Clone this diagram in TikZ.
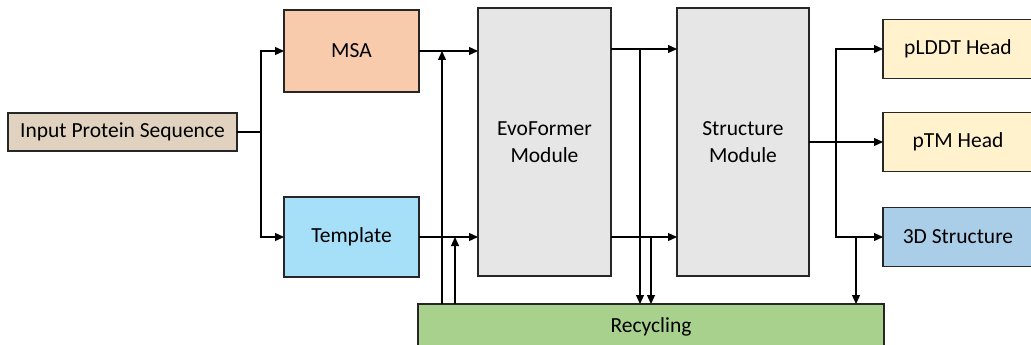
\documentclass[tikz,border=0pt]{standalone}
\usepackage{fontspec}
\setmainfont{Carlito}
\usepackage{tikz}
\usetikzlibrary{shapes, arrows.meta, positioning, calc}

\definecolor{inputfill}{HTML}{E0D2BF}
\definecolor{msafill}{HTML}{F8CBAD}
\definecolor{templatefill}{HTML}{A5E0F8}
\definecolor{modulefill}{HTML}{E6E6E6}
\definecolor{headfill}{HTML}{FFF2CC}
\definecolor{structfill}{HTML}{AACDE8}
\definecolor{recyclefill}{HTML}{A9D18E}
\definecolor{edge}{HTML}{262626}

\begin{document}
\begin{tikzpicture}[x=1pt, y=-1pt, font=\fontsize{21.5}{26.5}\selectfont]

  % Define styles for the different blocks
  \tikzstyle{block} = [draw=edge, line width=1.5pt, rectangle, inner sep=0pt, outer sep=0pt, align=center, text=black]
  \tikzstyle{module} = [block, minimum width=133pt, minimum height=268pt, fill=modulefill]
  \tikzstyle{head} = [block, minimum width=150pt, minimum height=59pt]
  \tikzstyle{line} = [line width=1.3pt, black]
  \tikzstyle{arrow} = [line, -{Triangle[length=9pt, width=8pt]}]

  \useasboundingbox (0,0) rectangle (1031,345);

  \node (input) [block, minimum width=229pt, minimum height=38pt, fill=inputfill] at (122.5,132) {Input Protein Sequence};
  \node (msa) [block, minimum width=135pt, minimum height=82pt, fill=msafill, right=47pt of input, yshift=81pt] {MSA};
  \node (template) [block, minimum width=135pt, minimum height=80pt, fill=templatefill, right=47pt of input, yshift=-105pt] {Template};
  \node (evo) [module, right=59pt of msa, yshift=-91pt] {EvoFormer\\Module};
  \node (struct) [module, right=66pt of evo, minimum width=132pt] {Structure\\Module};
  \node (ptm) [head, fill=headfill, right=74pt of struct] {pTM Head};
  \node (plddt) [head, fill=headfill, above=34pt of ptm] {pLDDT Head};
  \node (final) [head, fill=structfill, below=36pt of ptm] {3D Structure};
  \node (recycle) [block, minimum width=466pt, minimum height=46pt, fill=recyclefill, below=28pt of evo, xshift=106.5pt] {Recycling};

  \coordinate[right=24pt of input] (split);
  \coordinate[right=23pt of msa] (msajoin);
  \coordinate[right=36pt of template] (tmpjoin);
  \coordinate (evoup) at ($(plddt -| evo.east)+(29,0)$);
  \coordinate (evodown) at ($(final -| evo.east)+(40,0)$);
  \coordinate[right=27pt of struct] (fork);
  \coordinate (drop) at ($(final -| fork)+(20,0)$);

  \draw[line] (input) -- (split);
  \draw[arrow] (split) |- (msa);
  \draw[arrow] (split) |- (template);
  \draw[arrow] (msa) -- (msa -| evo.west);
  \draw[arrow] (template) -- (template -| evo.west);
  \draw[arrow] (recycle.north -| msajoin) -- (msajoin);
  \draw[arrow] (recycle.north -| tmpjoin) -- (tmpjoin);

  \draw[arrow] (plddt -| evo.east) -- (plddt -| struct.west);
  \draw[arrow] (final -| evo.east) -- (final -| struct.west);
  \draw[arrow] (evoup) -- (recycle.north -| evoup);
  \draw[arrow] (evodown) -- (recycle.north -| evodown);

  \draw[line] (struct) -- (fork);
  \draw[arrow] (fork) |- (plddt);
  \draw[arrow] (fork) -- (ptm);
  \draw[arrow] (fork) |- (final);
  \draw[arrow] (drop) -- (recycle.north -| drop);

\end{tikzpicture}
\end{document}
